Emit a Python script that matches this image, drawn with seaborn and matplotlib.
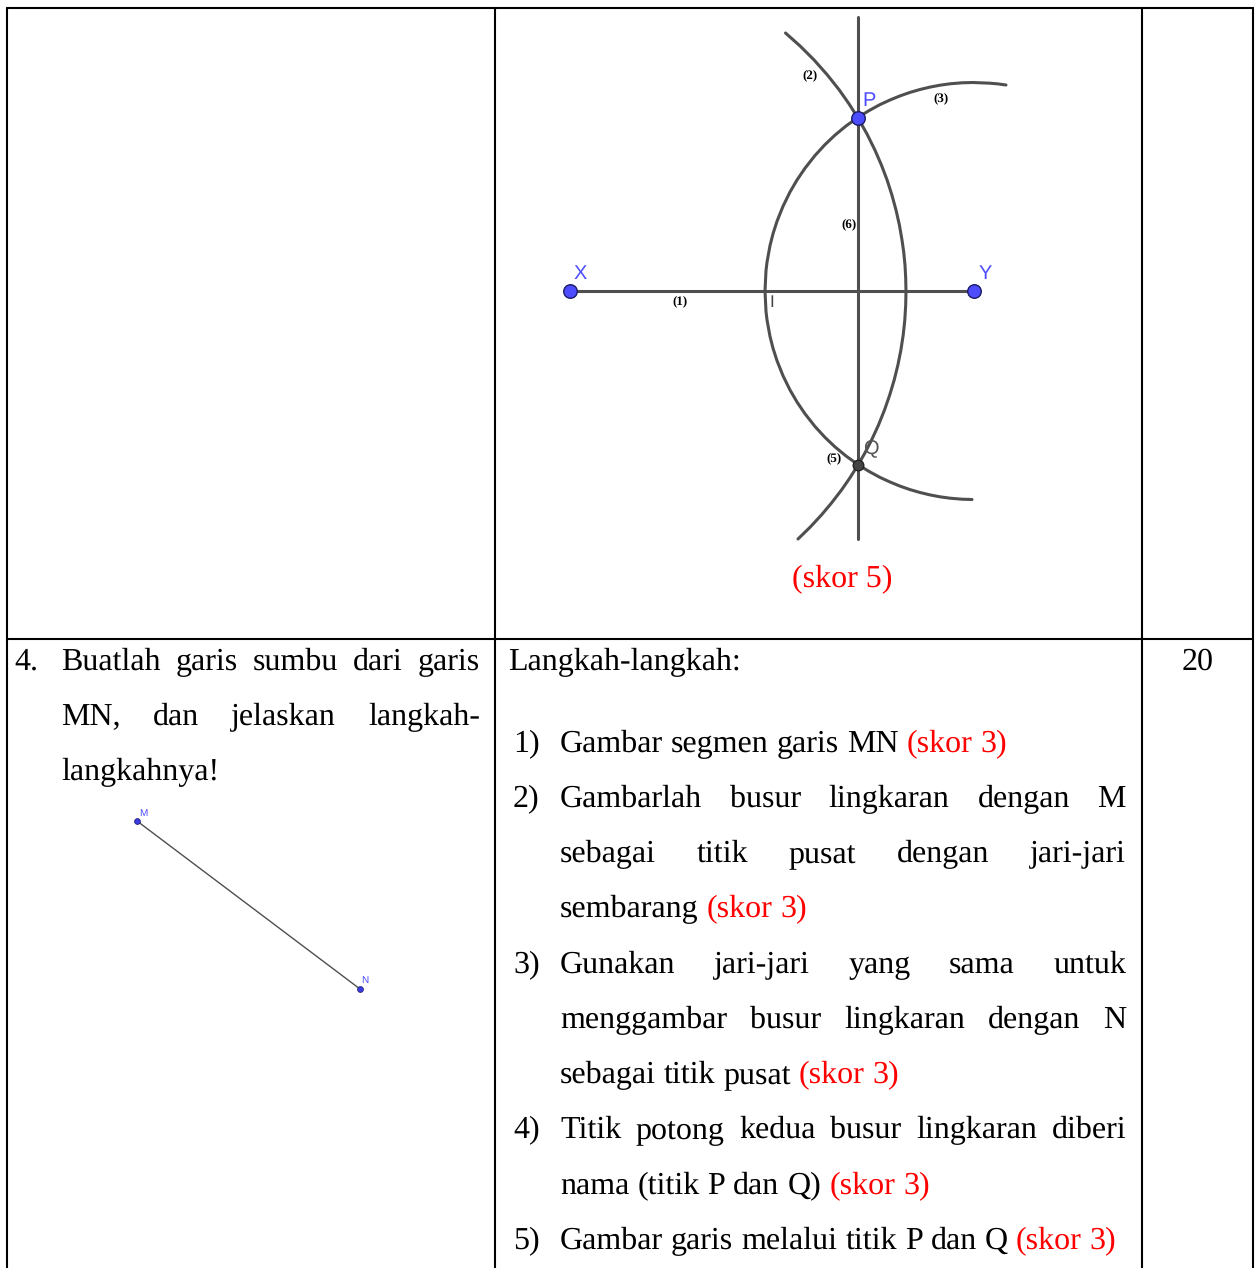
import matplotlib
matplotlib.use("Agg")
import matplotlib.pyplot as plt
import seaborn as sns

# ---- table grid
GRID_X = [7, 495, 1142, 1253]
GRID_Y = [8, 639]
PAGE_BOTTOM = 1268

# ---- construction figure (upper right cell)
seg_xy_x = [570, 974]
seg_xy_y = [291, 291]
seg_pq_x = [858, 858]
seg_pq_y = [17, 539]

arc_x_xs = [785.5, 800.1, 814.1, 827.4, 839.3, 849.1, 858, 867, 874.9, 881.4, 887.1, 891.9, 896,
            899.4, 902, 903.7, 905, 905.7, 906, 905.7, 904.8, 903.2, 900.9, 897.9, 894.2, 889.7,
            884.5, 878.5, 871.6, 864.9, 858, 849.8, 841.5, 831.5, 821.4, 810.3, 798]
arc_x_ys = [33, 46, 60, 75, 90, 104, 118, 134, 150, 165, 180, 195, 210,
            225, 240, 252, 265, 278, 291.5, 305, 320, 335, 350, 365, 380, 395,
            410, 425, 440, 453, 465, 478, 490, 503, 515, 527, 539]

arc_y_xs = [1006, 998, 990, 973, 962, 950, 940, 930, 920, 910, 900, 890, 880, 869, 858, 846, 835,
            825, 815, 805, 797, 790, 783, 777, 773, 770, 767, 766, 765,
            766, 767, 770, 773, 777, 783, 790, 797, 805, 815, 825, 835, 846, 858,
            869, 880, 890, 900, 910, 920, 930, 940, 950, 962, 972]
arc_y_ys = [85, 83.9, 83.2, 82.5, 82.8, 83.8, 85.2, 87.1, 89.5, 92.4, 95.9, 100, 104.6, 110.6, 117.4, 126, 135.1,
            144.6, 155.5, 168.2, 180, 192, 206.3, 221.3, 233.8, 245.6, 262.2, 270.6, 291,
            311.4, 319.8, 336.4, 348.2, 360.7, 375.7, 390, 402, 413.8, 426.5, 437.4, 446.9, 456, 464.6,
            471.4, 477.4, 482, 486.1, 489.6, 492.5, 494.9, 496.8, 498.2, 499.2, 499.5]

blue_pts_x = [570, 974, 858]
blue_pts_y = [291, 291, 118]
q_pt_x = [858]
q_pt_y = [465]

# ---- MN segment (question cell)
mn_x = [137, 360]
mn_y = [821, 989]

# ---- text
SERIF = "Liberation Serif"
BLACK = "#000000"
RED = "#ff0000"
BLUE = "#4d4dff"
LINE_GRAY = "#4f4f4f"

# words, left x, right x (None = natural spacing), baseline y, index of first red word
text_lines = [
    ("Buatlah garis sumbu dari garis", 61, 480, 670, None),
    ("MN, dan jelaskan langkah-", 61, 480, 725, None),
    ("langkahnya!", 61, None, 780, None),
    ("Langkah-langkah:", 508, None, 670, None),
    ("Gambar segmen garis MN (skor 3)", 560, None, 752, 4),
    ("Gambarlah busur lingkaran dengan M", 560, 1126, 807, None),
    ("sebagai titik pusat dengan jari-jari", 560, 1126, 862, None),
    ("sembarang (skor 3)", 560, None, 917, 1),
    ("Gunakan jari-jari yang sama untuk", 560, 1126, 973, None),
    ("menggambar busur lingkaran dengan N", 560, 1126, 1028, None),
    ("sebagai titik pusat (skor 3)", 560, None, 1083, 3),
    ("Titik potong kedua busur lingkaran diberi", 560, 1126, 1138, None),
    ("nama (titik P dan Q) (skor 3)", 560, None, 1194, 5),
    ("Gambar garis melalui titik P dan Q (skor 3)", 560, None, 1249, 7),
]
number_labels = ["4.", "1)", "2)", "3)", "4)", "5)"]
number_x = [14, 513, 513, 513, 513, 513]
number_y = [670, 752, 807, 973, 1138, 1249]

step_labels = ["(1)", "(2)", "(3)", "(5)", "(6)"]
step_x = [680, 810, 941, 834, 849]
step_y = [301, 75, 98, 458, 224]

point_labels = ["X", "Y", "P", "Q"]
point_label_x = [580, 985, 869, 871]
point_label_y = [274, 274, 101, 449]
point_label_colors = [BLUE, BLUE, BLUE, "#555555"]

FONT_SIZE = 23

sns.set_theme(style="white")
plt.rcParams["font.family"] = [SERIF, "DejaVu Sans"]
plt.rcParams["text.hinting"] = "no_hinting"
plt.rcParams["text.hinting_factor"] = 1

fig = plt.figure(figsize=(12.57, 12.68), dpi=100)
ax = fig.add_axes([0, 0, 1, 1])
ax.set_xlim(0, 1257)
ax.set_ylim(1268, 0)
ax.axis("off")


def draw_line(xs, ys, color=LINE_GRAY, lw=2.2):
    sns.lineplot(x=xs, y=ys, sort=False, estimator=None, color=color, linewidth=lw,
                 solid_joinstyle="round", ax=ax, legend=False)


# table borders
for gx in GRID_X:
    draw_line([gx, gx], [GRID_Y[0], PAGE_BOTTOM], color=BLACK, lw=1.5)
for gy in GRID_Y:
    draw_line([GRID_X[0], GRID_X[-1]], [gy, gy], color=BLACK, lw=1.5)

# construction
draw_line(seg_xy_x, seg_xy_y)
draw_line(seg_pq_x, seg_pq_y)
draw_line(arc_x_xs, arc_x_ys)
draw_line(arc_y_xs, arc_y_ys)
sns.scatterplot(x=blue_pts_x, y=blue_pts_y, s=95, color=BLUE, edgecolor="#1a1a66",
                linewidth=1.0, ax=ax, legend=False, zorder=5)
sns.scatterplot(x=q_pt_x, y=q_pt_y, s=58, color="#444444", edgecolor="#222222",
                linewidth=1.0, ax=ax, legend=False, zorder=5)

for lab, lx, ly, col in zip(point_labels, point_label_x, point_label_y, point_label_colors):
    ax.text(lx, ly, lab, color=col, fontsize=14.5, family="Liberation Sans",
            ha="center", va="center")
for lab, lx, ly in zip(step_labels, step_x, step_y):
    ax.text(lx, ly, lab, color=BLACK, fontsize=9.5, fontweight="bold", family=SERIF,
            ha="center", va="center")
ax.text(772, 303, "I", color="#444444", fontsize=12, family="Liberation Sans",
        ha="center", va="center")
ax.text(842, 587, "(skor 5)", color=RED, fontsize=FONT_SIZE, ha="center", va="baseline")

# MN segment
draw_line(mn_x, mn_y, lw=1.0)
sns.scatterplot(x=mn_x, y=mn_y, s=18, color="#3a3ae0", edgecolor="#1a1a66", linewidth=0.5,
                ax=ax, legend=False, zorder=5)
ax.text(143, 813, "M", color=BLUE, fontsize=7, family="Liberation Sans", ha="center", va="center")
ax.text(365, 980, "N", color=BLUE, fontsize=7, family="Liberation Sans", ha="center", va="center")

# body text, word by word so justified lines keep their edges
renderer = fig.canvas.get_renderer()


def word_width(word):
    t = ax.text(0, 0, word, fontsize=FONT_SIZE)
    w = t.get_window_extent(renderer).width
    t.remove()
    return w


space_w = word_width("a a") - word_width("aa")
for line, x0, x1, base, red_from in text_lines:
    words = line.split(" ")
    widths = [word_width(w) for w in words]
    gap = space_w if x1 is None else (x1 - x0 - sum(widths)) / (len(words) - 1)
    cur = x0
    for i, (w, wd) in enumerate(zip(words, widths)):
        col = RED if red_from is not None and i >= red_from else BLACK
        ax.text(cur, base, w, color=col, fontsize=FONT_SIZE, ha="left", va="baseline")
        cur += wd + gap

for lab, lx, ly in zip(number_labels, number_x, number_y):
    ax.text(lx, ly, lab, color=BLACK, fontsize=FONT_SIZE, ha="left", va="baseline")
ax.text(1198, 670, "20", color=BLACK, fontsize=FONT_SIZE, ha="center", va="baseline")

fig.savefig("out.png", dpi=100, facecolor="white")
plt.close(fig)
